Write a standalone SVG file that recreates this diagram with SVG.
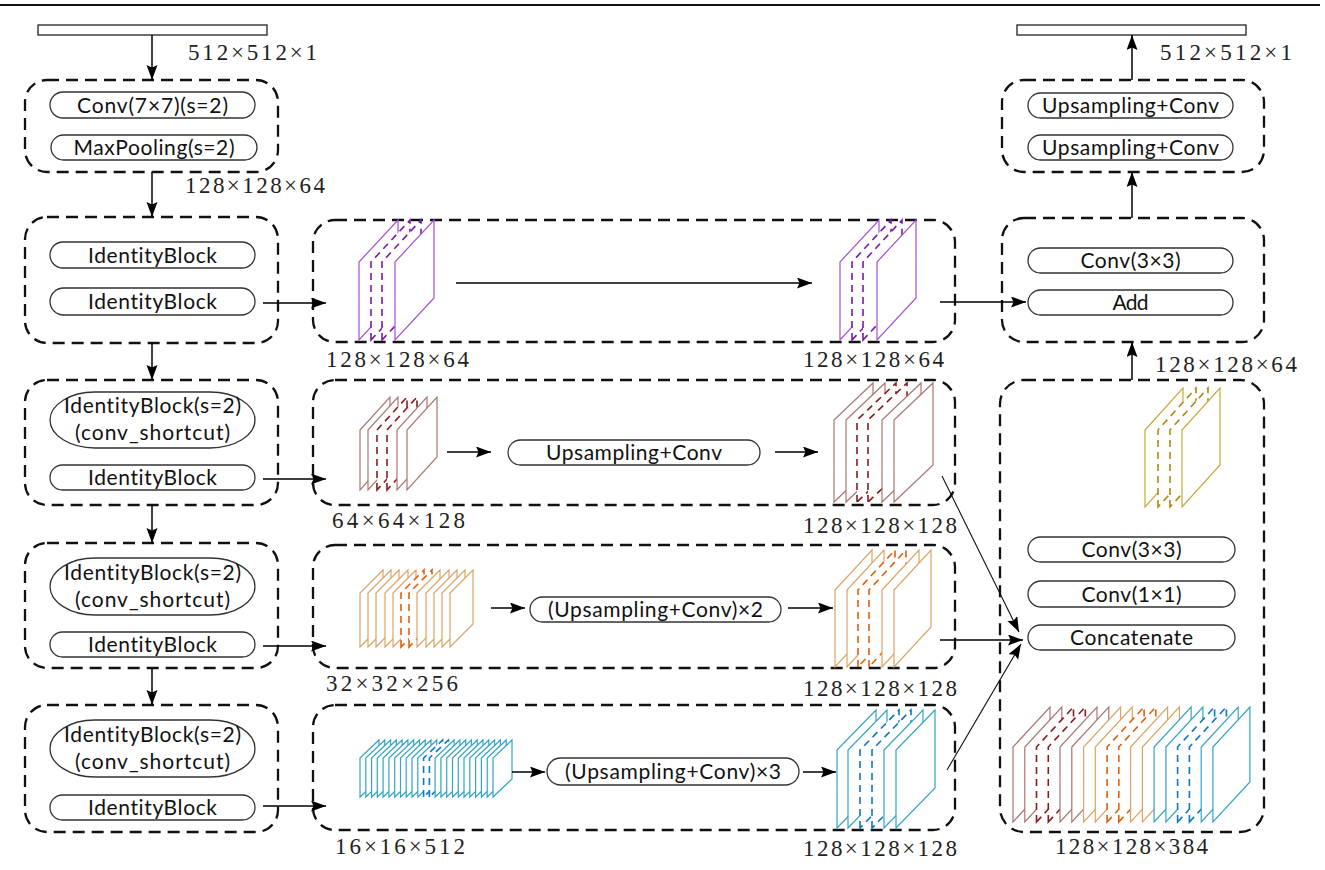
<svg xmlns="http://www.w3.org/2000/svg" width="1325" height="870" viewBox="0 0 1325 870">
<defs>
<marker id="ah" markerUnits="userSpaceOnUse" markerWidth="16" markerHeight="12" refX="15" refY="5.5" orient="auto">
<path d="M0,0 L15,5.5 L0,11 L2.5,5.5 z" fill="#000"/>
</marker>
</defs>
<style>
.box{fill:none;stroke:#111;stroke-width:2.3;stroke-dasharray:12 7}
.pill{fill:#fff;stroke:#333;stroke-width:1.3}
.t{font-family:Lato,"Liberation Sans",sans-serif;font-size:21px;fill:#111;text-anchor:middle;font-variant-ligatures:none;font-feature-settings:"liga" 0}
.s{font-family:"Liberation Serif",serif;font-size:23px;fill:#222}
.bar{fill:#fff;stroke:#222;stroke-width:1.3}
.c{fill:none;stroke:#000;stroke-width:1.5;marker-end:url(#ah)}
.cd{fill:none;stroke:#111;stroke-width:1.1;marker-end:url(#ah)}
polygon{fill:#fff;stroke-width:1.2;stroke-linejoin:miter}
.pu{stroke:#a452d2}.pud{stroke:#7a1aa8;stroke-dasharray:7 5;stroke-width:1.6}
.br{stroke:#a87872}.brd{stroke:#8b1c1c;stroke-dasharray:7 5;stroke-width:1.6}
.or{stroke:#dca464}.ord{stroke:#e0600c;stroke-dasharray:7 5;stroke-width:1.6}
.cy{stroke:#34a4c4}.cyd{stroke:#0c78c0;stroke-dasharray:7 5;stroke-width:1.6}
.ye{stroke:#c8a83a}.yed{stroke:#b08812;stroke-dasharray:7 5;stroke-width:1.6}
</style>
<rect width="1325" height="870" fill="#fff"/>
<line x1="0" y1="5" x2="1320" y2="5" stroke="#111" stroke-width="2.2"/>

<g id="n-input">
<rect class="bar" x="38" y="25" width="229" height="10"/>
<text class="s" x="188" y="60" textLength="129" lengthAdjust="spacing">512×512×1</text>
</g>

<g id="n-stem">
<rect class="box" x="25" y="80" width="253" height="92" rx="22"/>
<rect class="pill" x="50" y="92" width="205" height="26" rx="13"/>
<text class="t" x="152.5" y="112.5" textLength="151" lengthAdjust="spacing">Conv(7×7)(s=2)</text>
<rect class="pill" x="51" y="135" width="206" height="25" rx="12.5"/>
<text class="t" x="154" y="155" textLength="161" lengthAdjust="spacing">MaxPooling(s=2)</text>
<text class="s" x="185" y="193" textLength="140" lengthAdjust="spacing">128×128×64</text>
</g>

<g id="n-stage1">
<rect class="box" x="25" y="217" width="253" height="126" rx="22"/>
<rect class="pill" x="50" y="242" width="205" height="26" rx="13"/>
<text class="t" x="152.5" y="262.5" textLength="129" lengthAdjust="spacing">IdentityBlock</text>
<rect class="pill" x="50" y="288" width="205" height="27" rx="13.5"/>
<text class="t" x="152.5" y="309" textLength="129" lengthAdjust="spacing">IdentityBlock</text>
</g>

<g id="n-stage2">
<rect class="box" x="25" y="380" width="253" height="125" rx="22"/>
<rect class="pill" x="50" y="392" width="205" height="56" rx="45" ry="28"/>
<text class="t" x="152.5" y="413" textLength="177" lengthAdjust="spacing">IdentityBlock(s=2)</text>
<text class="t" x="152.5" y="440" textLength="155" lengthAdjust="spacing">(conv_shortcut)</text>
<rect class="pill" x="50" y="465" width="205" height="25" rx="12.5"/>
<text class="t" x="152.5" y="485" textLength="129" lengthAdjust="spacing">IdentityBlock</text>
</g>

<g id="n-stage3">
<rect class="box" x="25" y="543" width="253" height="125" rx="22"/>
<rect class="pill" x="50" y="558" width="205" height="57" rx="45" ry="28.5"/>
<text class="t" x="152.5" y="580" textLength="177" lengthAdjust="spacing">IdentityBlock(s=2)</text>
<text class="t" x="152.5" y="607" textLength="155" lengthAdjust="spacing">(conv_shortcut)</text>
<rect class="pill" x="50" y="632" width="205" height="25" rx="12.5"/>
<text class="t" x="152.5" y="652" textLength="129" lengthAdjust="spacing">IdentityBlock</text>
</g>

<g id="n-stage4">
<rect class="box" x="25" y="705" width="253" height="127" rx="22"/>
<rect class="pill" x="50" y="720" width="205" height="57" rx="45" ry="28.5"/>
<text class="t" x="152.5" y="742" textLength="177" lengthAdjust="spacing">IdentityBlock(s=2)</text>
<text class="t" x="152.5" y="769" textLength="155" lengthAdjust="spacing">(conv_shortcut)</text>
<rect class="pill" x="50" y="795" width="205" height="25" rx="12.5"/>
<text class="t" x="152.5" y="815" textLength="129" lengthAdjust="spacing">IdentityBlock</text>
</g>

<g id="n-row1">
<rect class="box" x="313" y="220" width="642" height="122" rx="22"/>
<polygon class="pu" points="359,340 359,262 398,220 398,298"/>
<polygon class="pud" points="371,340 371,262 410,220 410,298"/>
<polygon class="pud" points="382,340 382,262 421,220 421,298"/>
<polygon class="pu" points="395,340 395,262 434,220 434,298"/>
<polygon class="pu" points="840,340 840,262 879,220 879,298"/>
<polygon class="pud" points="852,340 852,262 891,220 891,298"/>
<polygon class="pud" points="863,340 863,262 902,220 902,298"/>
<polygon class="pu" points="877,340 877,262 916,220 916,298"/>
<text class="s" x="326" y="367" textLength="143" lengthAdjust="spacing">128×128×64</text>
<text class="s" x="803" y="367" textLength="141" lengthAdjust="spacing">128×128×64</text>
</g>

<g id="n-row2">
<rect class="box" x="313" y="380" width="642" height="125" rx="22"/>
<polygon class="br" points="360,490 360,430 390,397 390,457"/>
<polygon class="br" points="368,490 368,430 398,397 398,457"/>
<polygon class="brd" points="377,490 377,430 407,397 407,457"/>
<polygon class="brd" points="387,490 387,430 417,397 417,457"/>
<polygon class="br" points="397,490 397,430 427,397 427,457"/>
<polygon class="br" points="407,490 407,430 437,397 437,457"/>
<rect class="pill" x="508" y="440" width="252" height="25" rx="12.5"/>
<text class="t" x="634" y="460" textLength="176" lengthAdjust="spacing">Upsampling+Conv</text>
<polygon class="br" points="834,502 834,420 873,383 873,465"/>
<polygon class="br" points="846,502 846,420 885,383 885,465"/>
<polygon class="brd" points="857,502 857,420 896,383 896,465"/>
<polygon class="brd" points="868,502 868,420 907,383 907,465"/>
<polygon class="br" points="882,502 882,420 921,383 921,465"/>
<polygon class="br" points="894,502 894,420 933,383 933,465"/>
<text class="s" x="332" y="528" textLength="133" lengthAdjust="spacing">64×64×128</text>
<text class="s" x="803" y="533" textLength="154" lengthAdjust="spacing">128×128×128</text>
</g>

<g id="n-row3">
<rect class="box" x="313" y="545" width="642" height="123" rx="22"/>
<polygon class="or" points="360,647 360,593 383,570 383,624"/>
<polygon class="or" points="368,647 368,593 391,570 391,624"/>
<polygon class="or" points="376,647 376,593 399,570 399,624"/>
<polygon class="or" points="385,647 385,593 408,570 408,624"/>
<polygon class="or" points="393,647 393,593 416,570 416,624"/>
<polygon class="ord" points="401,647 401,593 424,570 424,624"/>
<polygon class="ord" points="409,647 409,593 432,570 432,624"/>
<polygon class="or" points="417,647 417,593 440,570 440,624"/>
<polygon class="or" points="426,647 426,593 449,570 449,624"/>
<polygon class="or" points="434,647 434,593 457,570 457,624"/>
<polygon class="or" points="442,647 442,593 465,570 465,624"/>
<polygon class="or" points="450,647 450,593 473,570 473,624"/>
<rect class="pill" x="530" y="597" width="251" height="25" rx="12.5"/>
<text class="t" x="655.5" y="617" textLength="215" lengthAdjust="spacing">(Upsampling+Conv)×2</text>
<polygon class="or" points="835,667 835,590 872,550 872,627"/>
<polygon class="or" points="847,667 847,590 884,550 884,627"/>
<polygon class="ord" points="858,667 858,590 895,550 895,627"/>
<polygon class="ord" points="869,667 869,590 906,550 906,627"/>
<polygon class="or" points="882,667 882,590 919,550 919,627"/>
<polygon class="or" points="894,667 894,590 931,550 931,627"/>
<text class="s" x="326" y="691" textLength="132" lengthAdjust="spacing">32×32×256</text>
<text class="s" x="803" y="696" textLength="154" lengthAdjust="spacing">128×128×128</text>
</g>

<g id="n-row4">
<rect class="box" x="313" y="705" width="642" height="125" rx="22"/>
<polygon class="cy" points="360,797 360,758 379,740 379,779"/>
<polygon class="cy" points="365.8,797 365.8,758 384.8,740 384.8,779"/>
<polygon class="cy" points="371.6,797 371.6,758 390.6,740 390.6,779"/>
<polygon class="cy" points="377.3,797 377.3,758 396.3,740 396.3,779"/>
<polygon class="cy" points="383.1,797 383.1,758 402.1,740 402.1,779"/>
<polygon class="cy" points="388.9,797 388.9,758 407.9,740 407.9,779"/>
<polygon class="cy" points="394.7,797 394.7,758 413.7,740 413.7,779"/>
<polygon class="cy" points="400.5,797 400.5,758 419.5,740 419.5,779"/>
<polygon class="cy" points="406.2,797 406.2,758 425.2,740 425.2,779"/>
<polygon class="cy" points="412,797 412,758 431,740 431,779"/>
<polygon class="cy" points="417.8,797 417.8,758 436.8,740 436.8,779"/>
<polygon class="cyd" points="423.6,797 423.6,758 442.6,740 442.6,779"/>
<polygon class="cyd" points="429.4,797 429.4,758 448.4,740 448.4,779"/>
<polygon class="cy" points="435.1,797 435.1,758 454.1,740 454.1,779"/>
<polygon class="cy" points="440.9,797 440.9,758 459.9,740 459.9,779"/>
<polygon class="cy" points="446.7,797 446.7,758 465.7,740 465.7,779"/>
<polygon class="cy" points="452.5,797 452.5,758 471.5,740 471.5,779"/>
<polygon class="cy" points="458.3,797 458.3,758 477.3,740 477.3,779"/>
<polygon class="cy" points="464,797 464,758 483,740 483,779"/>
<polygon class="cy" points="469.8,797 469.8,758 488.8,740 488.8,779"/>
<polygon class="cy" points="475.6,797 475.6,758 494.6,740 494.6,779"/>
<polygon class="cy" points="481.4,797 481.4,758 500.4,740 500.4,779"/>
<polygon class="cy" points="487.2,797 487.2,758 506.2,740 506.2,779"/>
<polygon class="cy" points="493,797 493,758 512,740 512,779"/>
<rect class="pill" x="547" y="758" width="252" height="27" rx="13.5"/>
<text class="t" x="673" y="779" textLength="216" lengthAdjust="spacing">(Upsampling+Conv)×3</text>
<polygon class="cy" points="837,828 837,750 876,710 876,788"/>
<polygon class="cy" points="848,828 848,750 887,710 887,788"/>
<polygon class="cyd" points="860,828 860,750 899,710 899,788"/>
<polygon class="cyd" points="872,828 872,750 911,710 911,788"/>
<polygon class="cy" points="884,828 884,750 923,710 923,788"/>
<polygon class="cy" points="896,828 896,750 935,710 935,788"/>
<text class="s" x="335" y="854" textLength="130" lengthAdjust="spacing">16×16×512</text>
<text class="s" x="803" y="856" textLength="154" lengthAdjust="spacing">128×128×128</text>
</g>

<g id="n-output">
<rect class="bar" x="1017" y="25" width="229" height="10"/>
<text class="s" x="1160" y="60" textLength="132" lengthAdjust="spacing">512×512×1</text>
</g>

<g id="n-head">
<rect class="box" x="1002" y="80" width="262" height="92" rx="22"/>
<rect class="pill" x="1028" y="93" width="205" height="25" rx="12.5"/>
<text class="t" x="1130.5" y="113" textLength="177" lengthAdjust="spacing">Upsampling+Conv</text>
<rect class="pill" x="1028" y="135" width="205" height="25" rx="12.5"/>
<text class="t" x="1130.5" y="155" textLength="177" lengthAdjust="spacing">Upsampling+Conv</text>
</g>

<g id="n-add">
<rect class="box" x="1002" y="218" width="262" height="124" rx="22"/>
<rect class="pill" x="1028" y="248" width="205" height="25" rx="12.5"/>
<text class="t" x="1130.5" y="268" textLength="100" lengthAdjust="spacing">Conv(3×3)</text>
<rect class="pill" x="1028" y="290" width="205" height="25" rx="12.5"/>
<text class="t" x="1130.5" y="310" textLength="36" lengthAdjust="spacing">Add</text>
<text class="s" x="1155" y="372" textLength="142" lengthAdjust="spacing">128×128×64</text>
</g>

<g id="n-concat">
<rect class="box" x="1000" y="380" width="264" height="452" rx="24"/>
<polygon class="ye" points="1145,507 1145,430 1183,388 1183,465"/>
<polygon class="yed" points="1158,507 1158,430 1196,388 1196,465"/>
<polygon class="yed" points="1170,507 1170,430 1208,388 1208,465"/>
<polygon class="ye" points="1182,507 1182,430 1220,388 1220,465"/>
<rect class="pill" x="1028" y="537" width="207" height="25" rx="12.5"/>
<text class="t" x="1131.5" y="557" textLength="100" lengthAdjust="spacing">Conv(3×3)</text>
<rect class="pill" x="1028" y="581" width="207" height="26" rx="13"/>
<text class="t" x="1131.5" y="601.5" textLength="100" lengthAdjust="spacing">Conv(1×1)</text>
<rect class="pill" x="1028" y="625" width="207" height="25" rx="12.5"/>
<text class="t" x="1131.5" y="645" textLength="123" lengthAdjust="spacing">Concatenate</text>
<polygon class="br" points="1013,822 1013,747 1050,707 1050,782"/>
<polygon class="br" points="1024.8,822 1024.8,747 1061.8,707 1061.8,782"/>
<polygon class="brd" points="1036.5,822 1036.5,747 1073.5,707 1073.5,782"/>
<polygon class="brd" points="1048.3,822 1048.3,747 1085.3,707 1085.3,782"/>
<polygon class="br" points="1060,822 1060,747 1097,707 1097,782"/>
<polygon class="br" points="1071.8,822 1071.8,747 1108.8,707 1108.8,782"/>
<polygon class="or" points="1083.6,822 1083.6,747 1120.6,707 1120.6,782"/>
<polygon class="or" points="1095.3,822 1095.3,747 1132.3,707 1132.3,782"/>
<polygon class="ord" points="1107.1,822 1107.1,747 1144.1,707 1144.1,782"/>
<polygon class="ord" points="1118.8,822 1118.8,747 1155.8,707 1155.8,782"/>
<polygon class="or" points="1130.6,822 1130.6,747 1167.6,707 1167.6,782"/>
<polygon class="or" points="1142.4,822 1142.4,747 1179.4,707 1179.4,782"/>
<polygon class="cy" points="1154.1,822 1154.1,747 1191.1,707 1191.1,782"/>
<polygon class="cy" points="1165.9,822 1165.9,747 1202.9,707 1202.9,782"/>
<polygon class="cyd" points="1177.6,822 1177.6,747 1214.6,707 1214.6,782"/>
<polygon class="cyd" points="1189.4,822 1189.4,747 1226.4,707 1226.4,782"/>
<polygon class="cy" points="1201.2,822 1201.2,747 1238.2,707 1238.2,782"/>
<polygon class="cy" points="1212.9,822 1212.9,747 1249.9,707 1249.9,782"/>
<text class="s" x="1055" y="854" textLength="153" lengthAdjust="spacing">128×128×384</text>
</g>

<g id="connectors">
<line class="c" x1="152" y1="35" x2="152" y2="80"/>
<line class="c" x1="152" y1="172" x2="152" y2="217"/>
<line class="c" x1="152" y1="343" x2="152" y2="380"/>
<line class="c" x1="152" y1="505" x2="152" y2="543"/>
<line class="c" x1="152" y1="668" x2="152" y2="705"/>
<line class="c" x1="263" y1="303" x2="326" y2="303"/>
<line class="c" x1="263" y1="479" x2="326" y2="479"/>
<line class="c" x1="263" y1="646" x2="326" y2="646"/>
<line class="c" x1="263" y1="806" x2="326" y2="806"/>
<line class="c" x1="456" y1="283" x2="812" y2="283"/>
<line class="c" x1="447" y1="452" x2="491" y2="452"/>
<line class="c" x1="775" y1="452" x2="818" y2="452"/>
<line class="c" x1="491" y1="608" x2="525" y2="608"/>
<line class="c" x1="788" y1="608" x2="833" y2="608"/>
<line class="c" x1="512" y1="772" x2="545" y2="772"/>
<line class="c" x1="803" y1="772" x2="836" y2="772"/>
<line class="c" x1="940" y1="302" x2="1026" y2="302"/>
<line class="cd" x1="942" y1="476" x2="1019" y2="632"/>
<line class="c" x1="940" y1="640" x2="1023" y2="640"/>
<line class="cd" x1="947" y1="770" x2="1021" y2="644"/>
<line class="c" x1="1132" y1="380" x2="1132" y2="342"/>
<line class="c" x1="1132" y1="218" x2="1132" y2="172"/>
<line class="c" x1="1132" y1="80" x2="1132" y2="35"/>
</g>
</svg>
